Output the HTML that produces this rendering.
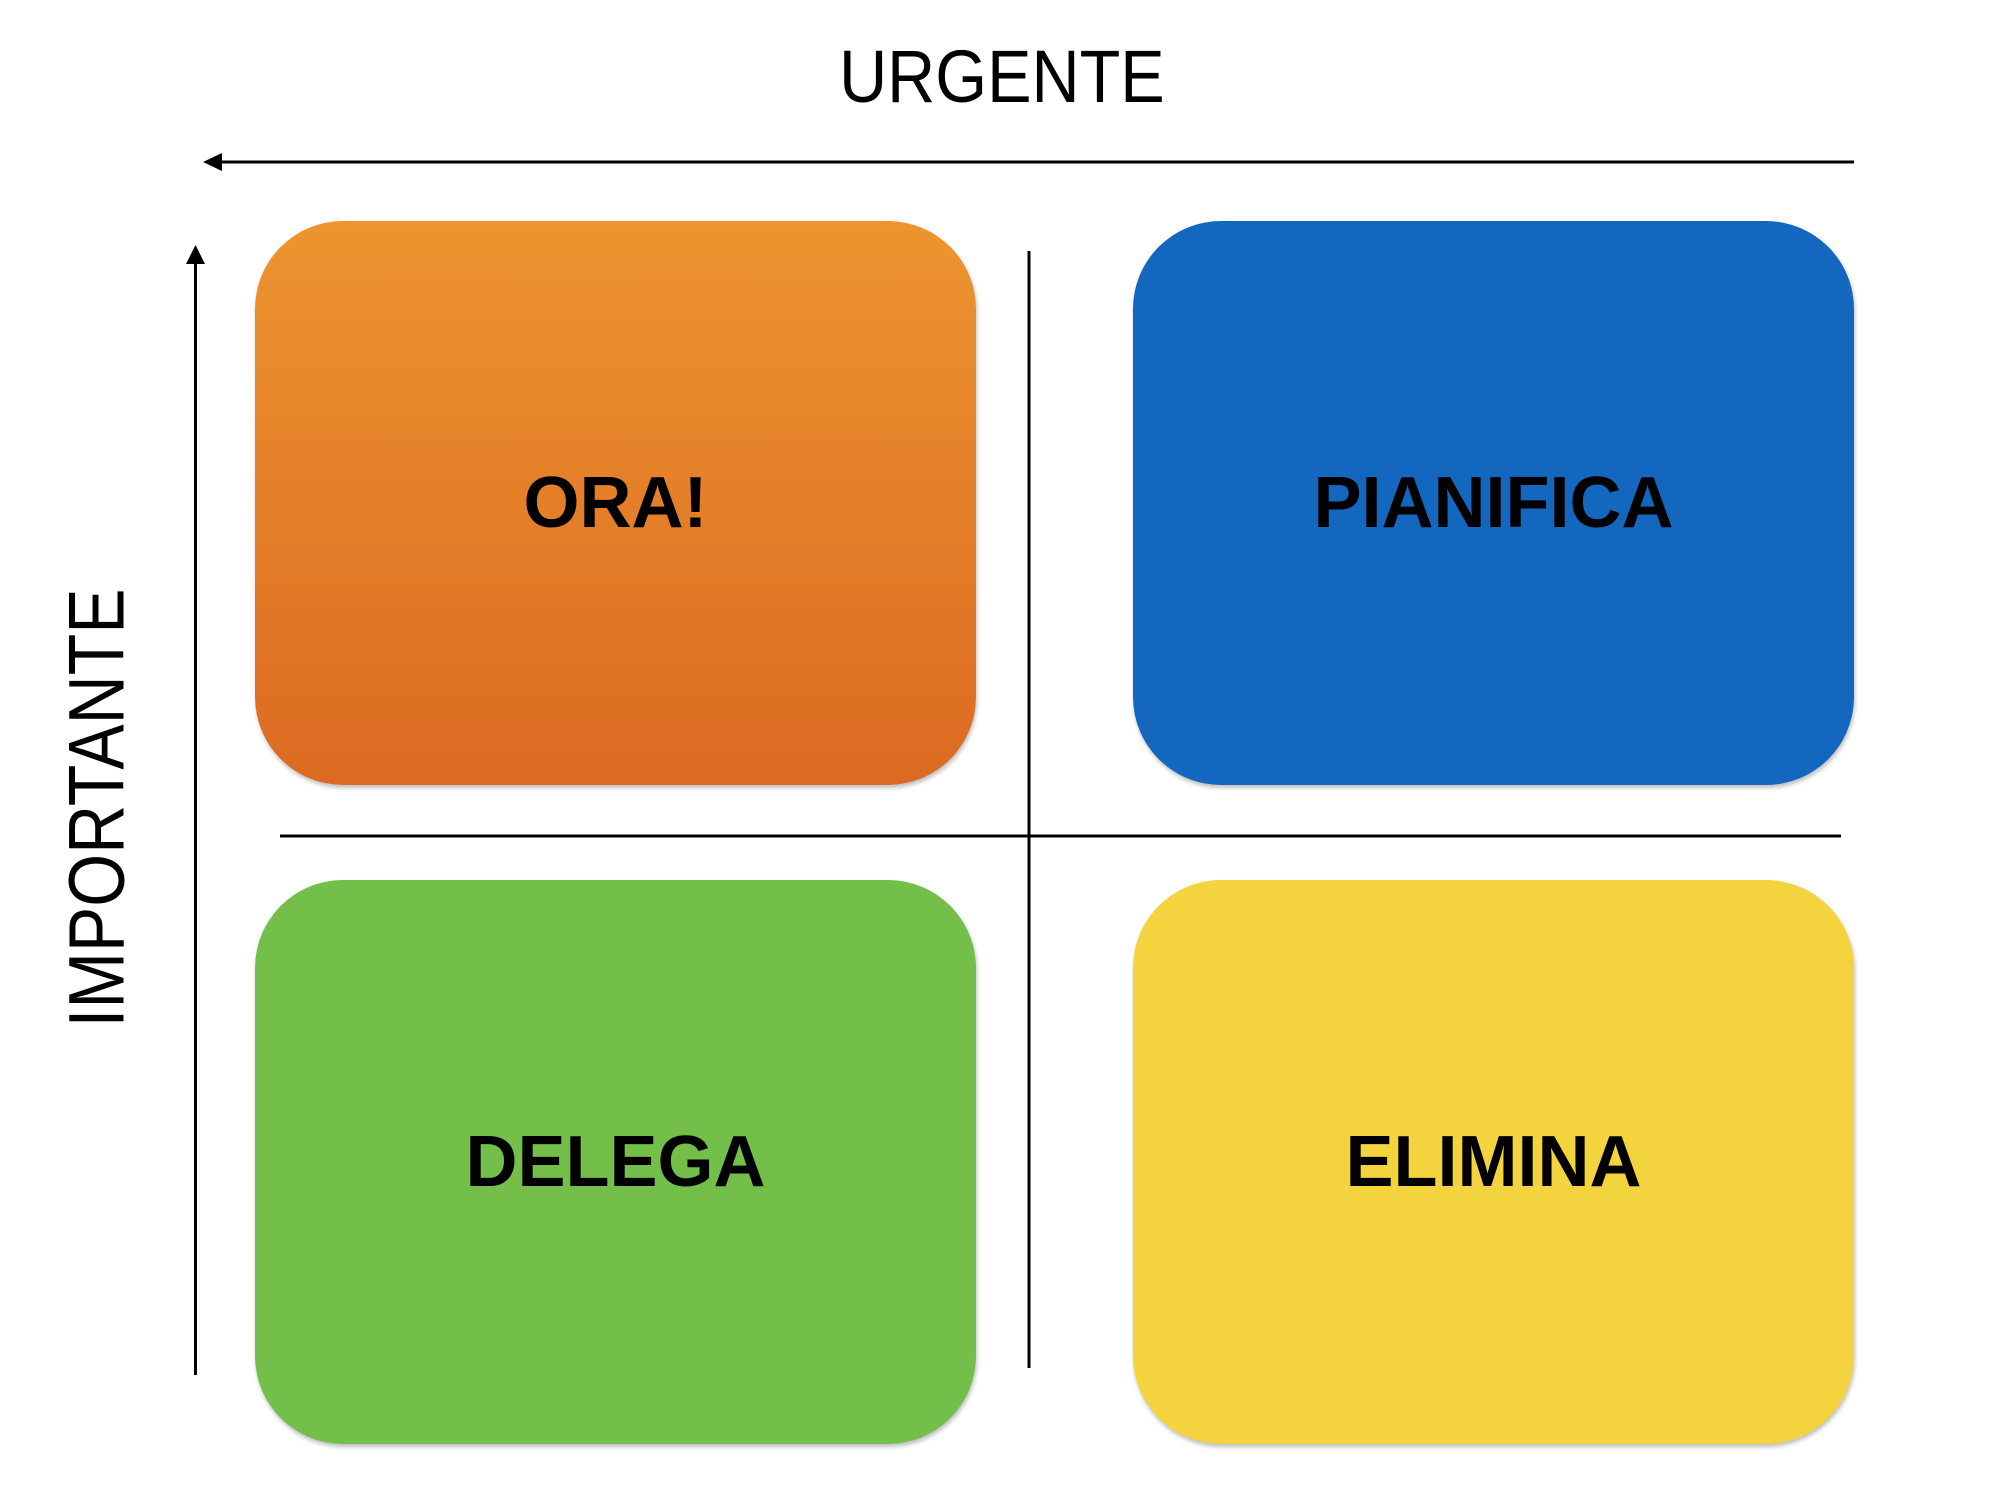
<!DOCTYPE html>
<html><head><meta charset="utf-8"><style>
html,body{margin:0;padding:0;background:#fff;}
body{width:2004px;height:1504px;position:relative;overflow:hidden;font-family:"Liberation Sans",sans-serif;}
.box{position:absolute;width:721px;height:564px;border-radius:88px;box-shadow:1px 3px 4px rgba(0,0,0,0.25);display:flex;align-items:center;justify-content:center;font-weight:bold;font-size:72px;color:#000;}
</style></head><body>
<div style="position:absolute;left:0;width:2004px;top:40px;text-align:center;font-size:74px;line-height:74px;"><span style="display:inline-block;transform:scaleX(0.9);">URGENTE</span></div>
<div style="position:absolute;left:96px;top:808px;transform:translate(-50%,-50%) rotate(-90deg) scaleX(0.86);font-size:79px;line-height:79px;white-space:nowrap;">IMPORTANTE</div>
<svg style="position:absolute;left:0;top:0" width="2004" height="1504">
<line x1="215" y1="162" x2="1854" y2="162" stroke="#000" stroke-width="3"/>
<polygon points="203,162 222,153 222,171" fill="#000"/>
<line x1="195.5" y1="258" x2="195.5" y2="1375" stroke="#000" stroke-width="3"/>
<polygon points="195.5,245 186,264 205,264" fill="#000"/>
<line x1="1029" y1="251" x2="1029" y2="1368" stroke="#000" stroke-width="3"/>
<line x1="280" y1="836" x2="1841" y2="836" stroke="#000" stroke-width="3"/>
</svg>
<div class="box" style="left:255px;top:221px;background:linear-gradient(#ED9430,#DC6A22);">ORA!</div>
<div class="box" style="left:1133px;top:221px;background:#1467BF;">PIANIFICA</div>
<div class="box" style="left:255px;top:880px;background:#74BE4A;">DELEGA</div>
<div class="box" style="left:1133px;top:880px;background:#F3D33E;">ELIMINA</div>
</body></html>
